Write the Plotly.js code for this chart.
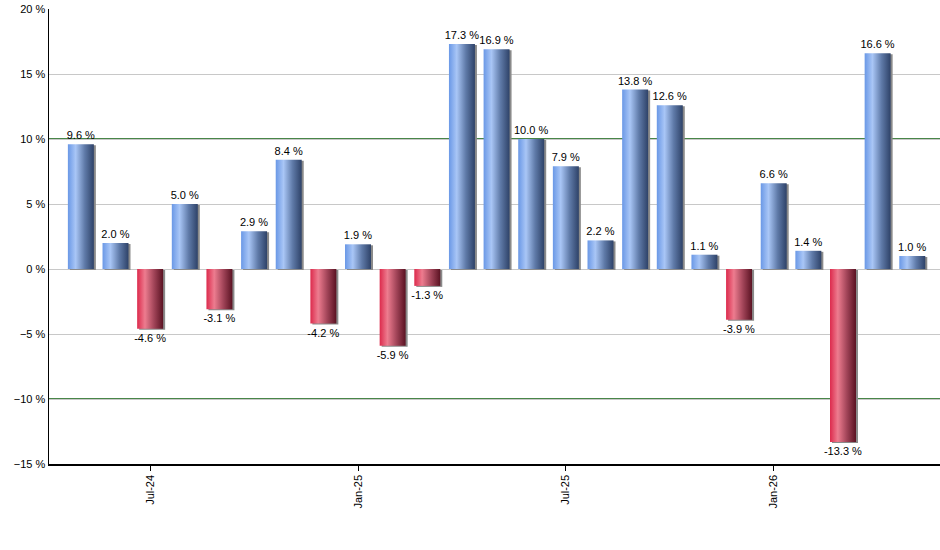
<!DOCTYPE html>
<html>
<head>
<meta charset="utf-8">
<script src="https://cdn.plot.ly/plotly-3.0.1.min.js"></script>
<style>
  body { margin: 0; background: #fff; }
  #chart { width: 940px; height: 550px; }
</style>
</head>
<body>
<div id="chart"></div>
<script>
// monthly returns, May-24 .. May-26
var months = ['May-24', 'Jun-24', 'Jul-24', 'Aug-24', 'Sep-24', 'Oct-24', 'Nov-24', 'Dec-24',
              'Jan-25', 'Feb-25', 'Mar-25', 'Apr-25', 'May-25', 'Jun-25', 'Jul-25', 'Aug-25',
              'Sep-25', 'Oct-25', 'Nov-25', 'Dec-25', 'Jan-26', 'Feb-26', 'Mar-26', 'Apr-26', 'May-26'];
var returns = [9.6, 2.0, -4.6, 5.0, -3.1, 2.9, 8.4, -4.2,
               1.9, -5.9, -1.3, 17.3, 16.9, 10.0, 7.9, 2.2,
               13.8, 12.6, 1.1, -3.9, 6.6, 1.4, -13.3, 16.6, 1.0];
var tickMonths = ['Jul-24', 'Jan-25', 'Jul-25', 'Jan-26'];
var refLines = [10, -10];

var idx = months.map(function(m, i) { return i; });
var tickVals = tickMonths.map(function(m) { return months.indexOf(m); });

var font = 'Liberation Sans, Arial, sans-serif';

var data = [{
    type: 'bar',
    x: idx,
    y: returns,
    width: 0.75,
    marker: {
        color: returns.map(function(v) { return v >= 0 ? '#7fa6ec' : '#d8455f'; }),
        line: { width: 0 }
    },
    text: returns.map(function(v) { return v.toFixed(1) + ' %'; }),
    textposition: 'outside',
    textangle: 0,
    constraintext: 'none',
    textfont: { family: font, size: 11, color: '#000' },
    cliponaxis: false,
    hoverinfo: 'none'
}];

var layout = {
    width: 940,
    height: 550,
    margin: { l: 49, r: 0, t: 9, b: 86, pad: 0 },
    paper_bgcolor: '#fff',
    plot_bgcolor: '#fff',
    showlegend: false,
    font: { family: font, size: 11, color: '#000' },
    xaxis: {
        range: [-0.92, 24.8],
        tickvals: tickVals,
        ticktext: tickMonths,
        tickangle: -90,
        ticks: 'outside',
        ticklen: 5,
        tickcolor: '#000',
        showgrid: false,
        zeroline: false,
        showline: true,
        linecolor: '#000',
        linewidth: 1.5,
        tickfont: { family: font, size: 11, color: '#000' }
    },
    yaxis: {
        range: [-15, 20],
        dtick: 5,
        ticksuffix: ' %',
        ticks: '',
        showgrid: true,
        gridcolor: '#c8c8c8',
        gridwidth: 1,
        zeroline: false,
        showline: true,
        linecolor: '#000',
        linewidth: 1.5,
        tickfont: { family: font, size: 11, color: '#000' }
    },
    shapes: refLines.map(function(v) {
        return {
            type: 'line', xref: 'paper', yref: 'y',
            x0: 0, x1: 1, y0: v, y1: v,
            line: { color: '#0b5e0b', width: 1.3 },
            layer: 'between'
        };
    })
};

Plotly.newPlot('chart', data, layout, { displayModeBar: false, staticPlot: true }).then(function(gd) {
    // bar gradients + small right-hand shadow
    var svg = gd.querySelector('.main-svg');
    var defs = svg.querySelector('defs');
    var ns = 'http://www.w3.org/2000/svg';

    function addGrad(id, stops) {
        var g = document.createElementNS(ns, 'linearGradient');
        g.setAttribute('id', id);
        g.setAttribute('x1', '0'); g.setAttribute('x2', '1');
        g.setAttribute('y1', '0'); g.setAttribute('y2', '0');
        stops.forEach(function(s) {
            var st = document.createElementNS(ns, 'stop');
            st.setAttribute('offset', s[0]);
            st.setAttribute('stop-color', s[1]);
            g.appendChild(st);
        });
        defs.appendChild(g);
    }
    addGrad('gradUp', [[0, '#6a98e6'], [0.3, '#a9c6f6'], [0.65, '#5f7aa8'], [1, '#2e4268']]);
    addGrad('gradDown', [[0, '#dc2a4c'], [0.3, '#ed7c8f'], [0.65, '#a14458'], [1, '#5a1222']]);

    var paths = gd.querySelectorAll('.barlayer .point path');
    paths.forEach(function(p, i) {
        var sh = p.cloneNode();
        sh.setAttribute('transform', 'translate(2,1)');
        sh.style.fill = '#8a8a8a';
        sh.style.opacity = 1;
        p.parentNode.insertBefore(sh, p);
        p.style.fill = returns[i] >= 0 ? 'url(#gradUp)' : 'url(#gradDown)';
    });
});
</script>
</body>
</html>
